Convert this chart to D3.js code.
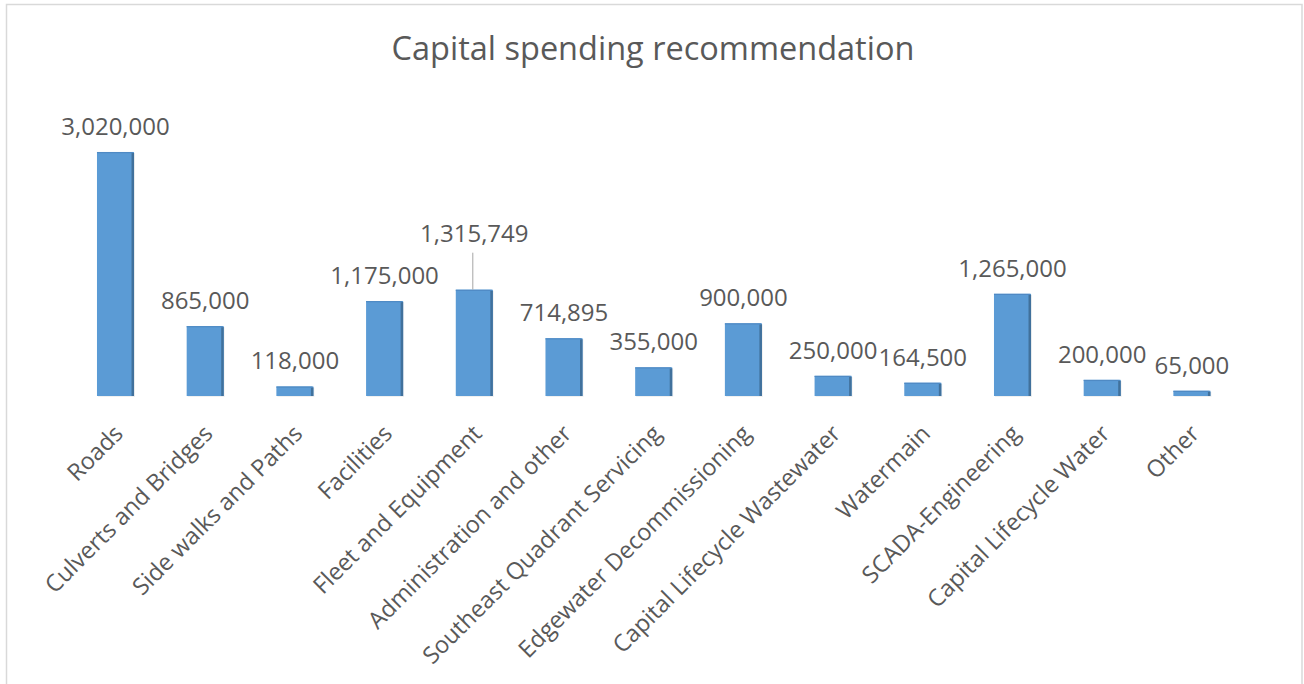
<!DOCTYPE html>
<html>
<head>
<meta charset="utf-8">
<script src="https://cdn.jsdelivr.net/npm/d3@7"></script>
<style>
  html, body { margin: 0; padding: 0; background: #ffffff; }
  svg { display: block; }
  text { font-family: "Open Sans", "Noto Sans", sans-serif; fill: #595959; }
</style>
</head>
<body>
<svg id="chart" width="1304" height="684"></svg>
<script>
const title = "Capital spending recommendation";
const categories = [
  "Roads", "Culverts and Bridges", "Side walks and Paths", "Facilities",
  "Fleet and Equipment", "Administration and other", "Southeast Quadrant Servicing",
  "Edgewater Decommissioning", "Capital Lifecycle Wastewater", "Watermain",
  "SCADA-Engineering", "Capital Lifecycle Water", "Other"
];
const values = [3020000, 865000, 118000, 1175000, 1315749, 714895, 355000, 900000, 250000, 164500, 1265000, 200000, 65000];

const svg = d3.select("#chart");

// chart border
svg.append("rect")
  .attr("x", 6.5).attr("y", 4.5)
  .attr("width", 1295.5).attr("height", 700)
  .attr("fill", "#ffffff")
  .attr("stroke", "#d9d9d9").attr("stroke-width", 1.5);

svg.append("text")
  .attr("x", 653).attr("y", 60)
  .attr("text-anchor", "middle")
  .style("font-size", "32.5px")
  .text(title);

const x = d3.scaleBand()
  .domain(categories)
  .range([70.65, 1236.75])
  .paddingInner(0.587)
  .paddingOuter(0.2935);

const y = d3.scaleLinear()
  .domain([0, 3500000])
  .range([396, 113.2]);

const data = categories.map((c, i) => ({ c, v: values[i] }));
const fmt = d3.format(",");

const bars = svg.append("g");
const g = bars.selectAll("g").data(data).join("g");

// soft shadow
g.append("rect")
  .attr("x", d => x(d.c) + 1)
  .attr("y", d => y(d.v) + 1)
  .attr("width", x.bandwidth())
  .attr("height", d => y(0) - y(d.v))
  .attr("fill", "#000").attr("opacity", 0.06);

g.append("rect")
  .attr("x", d => x(d.c))
  .attr("y", d => y(d.v))
  .attr("width", x.bandwidth())
  .attr("height", d => y(0) - y(d.v))
  .attr("fill", "#5b9bd5");

// darker right bevel
g.append("rect")
  .attr("x", d => x(d.c) + x.bandwidth() - 2.5)
  .attr("y", d => y(d.v) + 1)
  .attr("width", 2.5)
  .attr("height", d => y(0) - y(d.v) - 1)
  .attr("fill", "#41719c");

// top edge
g.append("rect")
  .attr("x", d => x(d.c))
  .attr("y", d => y(d.v))
  .attr("width", x.bandwidth() - 1)
  .attr("height", 1.2)
  .attr("fill", "#4f8ac4");

// value labels (Fleet label lifted with a leader line)
const leaderCat = "Fleet and Equipment";
const labelY = d => d.c === leaderCat ? y(d.v) - 48 : y(d.v) - 17;

svg.append("g").selectAll("line")
  .data(data.filter(d => d.c === leaderCat))
  .join("line")
  .attr("x1", d => x(d.c) + x.bandwidth() / 2 - 1.5)
  .attr("x2", d => x(d.c) + x.bandwidth() / 2 - 1.5)
  .attr("y1", d => y(d.v))
  .attr("y2", d => y(d.v) - 37)
  .attr("stroke", "#a6a6a6").attr("stroke-width", 1);

svg.append("g").selectAll("text")
  .data(data)
  .join("text")
  .attr("x", d => x(d.c) + x.bandwidth() / 2)
  .attr("y", labelY)
  .attr("text-anchor", "middle")
  .style("font-size", "24px")
  .text(d => fmt(d.v));

// category labels rotated -45
svg.append("g").selectAll("text")
  .data(categories)
  .join("text")
  .attr("transform", c => `translate(${x(c) + x.bandwidth() / 2 + 9},435) rotate(-45)`)
  .attr("text-anchor", "end")
  .style("font-size", "23.5px")
  .text(c => c);
</script>
</body>
</html>
